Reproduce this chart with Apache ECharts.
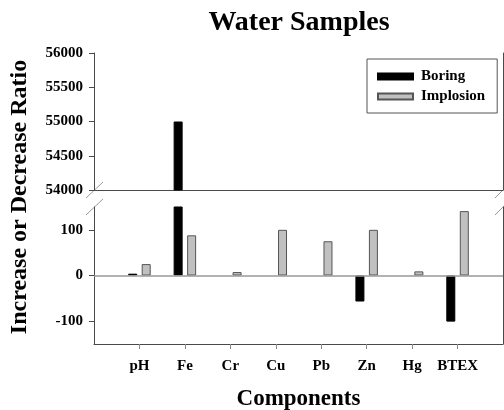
<!DOCTYPE html>
<html>
<head>
<meta charset="UTF-8">
<title>Water Samples</title>
<script type="text/javascript" src="https://cdn.jsdelivr.net/npm/echarts@6/dist/echarts.min.js"></script>
<style>
	html, body { margin: 0; padding: 0; background: #fff; }
	#main { width: 504px; height: 410px; }
</style>
</head>
<body>
<div id="main"></div>
<script type="text/javascript">
	// empty slots at both ends give the full-width margin left of pH and right of BTEX
	var components = ['', 'pH', 'Fe', 'Cr', 'Cu', 'Pb', 'Zn', 'Hg', 'BTEX', ''];
	var boring = [null, 4, 55000, null, null, null, -57, null, -101, null];
	var implosion = [null, 25, 88, 7.5, 100, 75, 100, 9, 141, null];
	var lowTicks = [-100, 0, 100];

	var serif = "'Liberation Serif', 'Times New Roman', serif";
	var axisColor = '#4a4a4a';
	var slashColor = '#9a9a9a';

	var chart = echarts.init(document.getElementById('main'));

	function hiddenY(grid, pos) {
		return {
			type: 'value', gridIndex: grid, position: pos,
			axisLine: { show: true, lineStyle: { color: axisColor } },
			axisTick: { show: false }, axisLabel: { show: false }, splitLine: { show: false }
		};
	}
	// plain numbers, no thousands separator
	function plain(v) { return String(v); }

	var boringStyle = { color: '#000', borderColor: '#000', borderWidth: 1 };
	var implStyle = { color: '#c0c0c0', borderColor: '#555', borderWidth: 1 };

	var option = {
		animation: false,
		title: {
			text: 'Water Samples',
			left: 294, top: 4, textAlign: 'center',
			textStyle: { fontFamily: serif, fontWeight: 'bold', fontSize: 28, color: '#000' }
		},
		legend: {
			data: ['Boring', 'Implosion'],
			orient: 'vertical',
			left: 367, top: 59,
			padding: [10, 12, 9, 10],
			icon: 'rect',
			itemWidth: 35, itemHeight: 6, itemGap: 5,
			borderColor: '#555', borderWidth: 1,
			textStyle: { fontFamily: serif, fontWeight: 'bold', fontSize: 15, color: '#000', padding: [0, 0, 0, 3] }
		},
		grid: [
			{ left: 94, right: 1, top: 53, height: 137, outerBoundsMode: 'none' },
			{ left: 94, right: 1, top: 207, height: 137, outerBoundsMode: 'none' }
		],
		xAxis: [
			{
				type: 'category', gridIndex: 0, data: components, boundaryGap: false, position: 'top',
				axisLine: { show: true, lineStyle: { color: axisColor } },
				axisTick: { show: false }, axisLabel: { show: false }
			},
			{
				type: 'category', gridIndex: 1, data: components, boundaryGap: false, position: 'bottom',
				axisLine: { show: true, onZero: false, lineStyle: { color: axisColor } },
				axisTick: {
					show: true, length: 5, lineStyle: { color: '#888' },
					interval: function (i, v) { return v !== ''; }
				},
				axisLabel: { interval: 0, margin: 15, fontFamily: serif, fontWeight: 'bold', fontSize: 15, color: '#000' },
				name: 'Components', nameLocation: 'middle', nameGap: 44,
				nameTextStyle: { fontFamily: serif, fontWeight: 'bold', fontSize: 23, color: '#000' }
			}
		],
		yAxis: [
			{
				type: 'value', gridIndex: 0, min: 54000, max: 56000, interval: 500,
				axisLine: { show: true, lineStyle: { color: axisColor } },
				axisTick: { show: true, length: 5, lineStyle: { color: axisColor } },
				axisLabel: { margin: 11, formatter: plain, fontFamily: serif, fontWeight: 'bold', fontSize: 15, color: '#000' },
				splitLine: { show: false }
			},
			{
				type: 'value', gridIndex: 1, min: -150, max: 150,
				axisLine: { show: true, onZero: false, lineStyle: { color: axisColor } },
				axisTick: { show: true, length: 5, customValues: lowTicks, lineStyle: { color: axisColor } },
				axisLabel: { margin: 11, customValues: lowTicks, formatter: plain, fontFamily: serif, fontWeight: 'bold', fontSize: 15, color: '#000' },
				splitLine: { show: false }
			},
			hiddenY(0, 'right'),
			hiddenY(1, 'right')
		],
		series: [
			{
				name: 'Boring', type: 'bar', xAxisIndex: 1, yAxisIndex: 1,
				data: boring, barWidth: 9, barGap: '50%', clip: true, itemStyle: boringStyle
			},
			{
				name: 'Implosion', type: 'bar', xAxisIndex: 1, yAxisIndex: 1,
				data: implosion, barWidth: 9, barGap: '50%', clip: true, itemStyle: implStyle,
				markLine: {
					silent: true, symbol: ['none', 'none'], label: { show: false },
					lineStyle: { color: '#999', width: 1.5, type: 'solid' },
					data: [{ yAxis: 0 }]
				}
			},
			{
				name: 'Boring', type: 'bar', xAxisIndex: 0, yAxisIndex: 0,
				data: boring, barWidth: 9, barGap: '50%', clip: true, itemStyle: boringStyle
			},
			{
				name: 'Implosion', type: 'bar', xAxisIndex: 0, yAxisIndex: 0,
				data: implosion, barWidth: 9, barGap: '50%', clip: true, itemStyle: implStyle
			}
		],
		graphic: [
			{
				type: 'text', x: 20, y: 197, rotation: Math.PI / 2,
				style: {
					text: 'Increase or Decrease Ratio', align: 'center', verticalAlign: 'middle',
					font: 'bold 24px ' + serif, fill: '#000'
				}
			},
			// axis break marks
			{ type: 'line', shape: { x1: 86, y1: 198, x2: 103, y2: 182 }, style: { stroke: slashColor, lineWidth: 1 } },
			{ type: 'line', shape: { x1: 86, y1: 215, x2: 103, y2: 199 }, style: { stroke: slashColor, lineWidth: 1 } },
			{ type: 'line', shape: { x1: 495, y1: 198, x2: 504, y2: 189 }, style: { stroke: slashColor, lineWidth: 1 } },
			{ type: 'line', shape: { x1: 495, y1: 215, x2: 504, y2: 206 }, style: { stroke: slashColor, lineWidth: 1 } }
		]
	};
	chart.setOption(option);
</script>
</body>
</html>
